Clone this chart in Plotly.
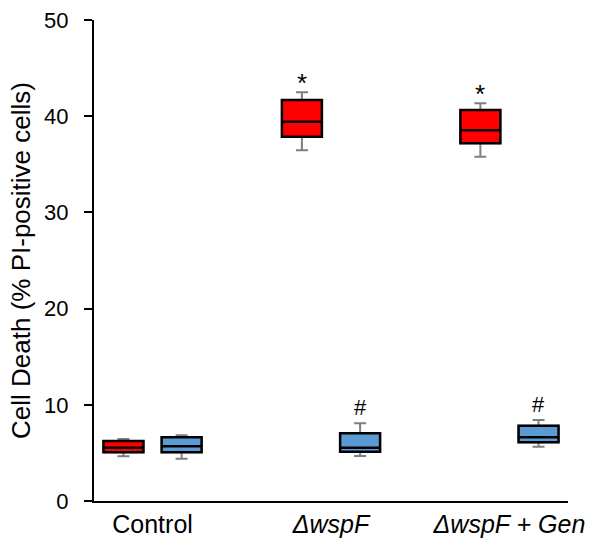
import plotly.graph_objects as go

categories = ["Control", "<i>ΔwspF</i>", "<i>ΔwspF + Gen</i>"]
cat_pos = [0, 1, 2]

# Red series (per category): q1, median, q3, min, max
red_q1 = [5.06, 37.87, 37.18]
red_med = [5.53, 39.43, 38.53]
red_q3 = [6.24, 41.68, 40.64]
red_min = [4.64, 36.45, 35.79]
red_max = [6.44, 42.48, 41.34]

# Blue series
blue_q1 = [5.06, 5.13, 6.10]
blue_med = [5.69, 5.54, 6.62]
blue_q3 = [6.62, 7.04, 7.83]
blue_min = [4.40, 4.68, 5.64]
blue_max = [6.83, 8.08, 8.42]

# significance marks: (category index, series, text, y)
marks_cat = [1, 2, 1, 2]
marks_series = ["red", "red", "blue", "blue"]
marks_text = ["*", "*", "#", "#"]
marks_y = [43.5, 42.3, 9.7, 10.0]
marks_size = [26, 26, 22, 22]

RED = "#FF0000"
BLUE = "#5B9BD5"
OFF = 0.163
W = 0.224

fig = go.Figure()

def add_series(q1, med, q3, mn, mx, color, off):
    xs = [p + off for p in cat_pos]
    # whiskers (gray)
    fig.add_trace(go.Box(
        x=xs, q1=q1, median=med, q3=q3, lowerfence=mn, upperfence=mx,
        width=W, whiskerwidth=0.3, fillcolor=color,
        line=dict(color="#7F7F7F", width=2), boxpoints=False,
        showlegend=False, hoverinfo="skip"))
    # box outline (black)
    fig.add_trace(go.Box(
        x=xs, q1=q1, median=med, q3=q3, lowerfence=q1, upperfence=q3,
        width=W, whiskerwidth=0, fillcolor=color,
        line=dict(color="black", width=2.5), boxpoints=False,
        showlegend=False))

add_series(red_q1, red_med, red_q3, red_min, red_max, RED, -OFF)
add_series(blue_q1, blue_med, blue_q3, blue_min, blue_max, BLUE, OFF)

for c, s, t, y, fs in zip(marks_cat, marks_series, marks_text, marks_y, marks_size):
    fig.add_annotation(x=cat_pos[c] + (-OFF if s == "red" else OFF), y=y,
                       text=t, showarrow=False, yanchor="middle",
                       font=dict(size=fs, color="black"))

fig.update_layout(
    width=596, height=541,
    margin=dict(l=94, r=28, t=20, b=40),
    plot_bgcolor="white", paper_bgcolor="white",
    font=dict(family="Liberation Sans, Arial", size=22, color="black"),
    boxmode="overlay",
)
fig.update_xaxes(
    range=[-0.328, 2.328], tickvals=cat_pos, ticktext=categories,
    showline=True, linecolor="black", linewidth=2, ticks="",
    showgrid=False, zeroline=False, tickfont=dict(size=25),
    automargin=False,
)
fig.update_yaxes(
    range=[0, 50], tickvals=[0, 10, 20, 30, 40, 50],
    showline=True, linecolor="black", linewidth=2, ticks="outside",
    ticklen=8, tickcolor="black", tickwidth=2,
    showgrid=False, zeroline=False, tickfont=dict(size=22),
    ticklabelstandoff=11, automargin=False,
    title=dict(text="Cell Death (% PI-positive cells)", font=dict(size=26), standoff=6),
)

fig.write_html("out.html", post_script="document.body.style.margin='0';",
               config={"displayModeBar": False})
